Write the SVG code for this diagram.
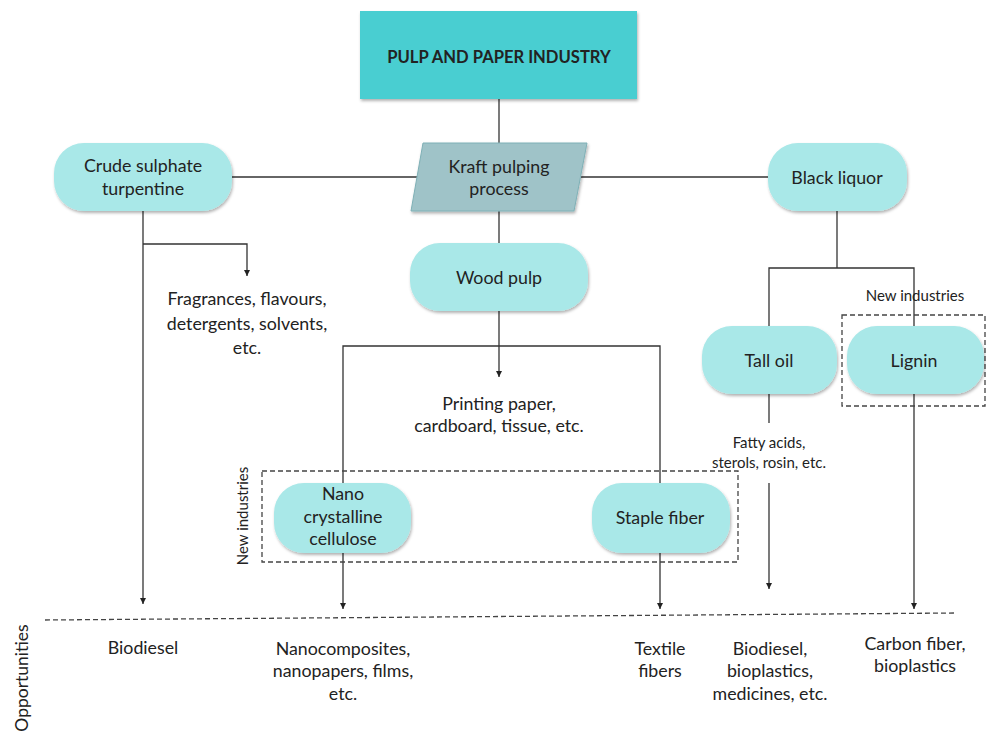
<svg xmlns="http://www.w3.org/2000/svg" width="986" height="740" viewBox="0 0 986 740">
<style>
text{font-family:Lato,"Open Sans","Liberation Sans",sans-serif;fill:#222;text-anchor:middle}
.n{font-size:17.8px}
.s{font-size:15px}
.pill{fill:#A9E8E8;filter:url(#sh)}
.c{stroke:#333;stroke-width:1.3;fill:none}
.d{stroke:#444;stroke-width:1.3;fill:none;stroke-dasharray:5 3}
</style>
<defs>
<filter id="sh" x="-10%" y="-10%" width="120%" height="130%">
<feDropShadow dx="1" dy="2" stdDeviation="1.5" flood-color="#000" flood-opacity="0.3"/>
</filter>
<marker id="ar" markerWidth="8" markerHeight="8" refX="6" refY="3" orient="auto" markerUnits="userSpaceOnUse">
<path d="M0,0 L6,3 L0,6 z" fill="#222"/>
</marker>
</defs>
<g id="connectors">
<path class="c" d="M499,99 V143"/>
<path class="c" d="M232,177 H418"/>
<path class="c" d="M581,177 H768"/>
<path class="c" d="M499,211 V243"/>
<path class="c" d="M499,311 V377" marker-end="url(#ar)"/>
<path class="c" d="M343,483 V346 H660 V483"/>
<path class="c" d="M143,211 V604" marker-end="url(#ar)"/>
<path class="c" d="M143,244 H247 V276" marker-end="url(#ar)"/>
<path class="c" d="M837,211 V268"/>
<path class="c" d="M769,327 V268 H914 V327"/>
<path class="c" d="M769,394 V423"/>
<path class="c" d="M769,483 V589" marker-end="url(#ar)"/>
<path class="c" d="M914,394 V609" marker-end="url(#ar)"/>
<path class="c" d="M343,553 V609" marker-end="url(#ar)"/>
<path class="c" d="M660,553 V609" marker-end="url(#ar)"/>
</g>
<g id="groups">
<rect class="d" x="262" y="471" width="476" height="91"/>
<rect class="d" x="842" y="315" width="143" height="91"/>
<path class="d" d="M45,620 L957,613"/>
<text class="s" transform="translate(248,516) rotate(-90)">New industries</text>
<text class="s" x="915" y="301">New industries</text>
<text class="n" style="font-size:17.5px" transform="translate(28,678) rotate(-90)">Opportunities</text>
</g>
<g id="n-top">
<rect x="360" y="11" width="277" height="88" fill="#48CED1" filter="url(#sh)"/>
<text x="499" y="63" style="font-size:16.6px;font-weight:bold">PULP AND PAPER INDUSTRY</text>
</g>
<g id="n-kraft">
<polygon points="423,143 587,143 574,211 411,211" fill="#9FC3C8" stroke="#7FB0B6" stroke-width="1" filter="url(#sh)"/>
<text class="n" x="499" y="173">Kraft pulping</text>
<text class="n" x="499" y="195">process</text>
</g>
<g id="n-crude">
<rect class="pill" x="54" y="143" width="178" height="68" rx="30"/>
<text class="n" x="143" y="172">Crude sulphate</text>
<text class="n" x="143" y="195">turpentine</text>
</g>
<g id="n-black">
<rect class="pill" x="768" y="143" width="139" height="68" rx="30"/>
<text class="n" x="837" y="184">Black liquor</text>
</g>
<g id="n-wood">
<rect class="pill" x="410" y="243" width="178" height="68" rx="30"/>
<text class="n" x="499" y="284">Wood pulp</text>
</g>
<g id="t-frag">
<text class="n" x="247" y="305">Fragrances, flavours,</text>
<text class="n" x="247" y="330">detergents, solvents,</text>
<text class="n" x="247" y="354">etc.</text>
</g>
<g id="t-print">
<text class="n" x="499" y="410">Printing paper,</text>
<text class="n" x="499" y="432">cardboard, tissue, etc.</text>
</g>
<g id="n-tall">
<rect class="pill" x="702" y="326" width="135" height="68" rx="30"/>
<text class="n" x="769" y="367">Tall oil</text>
</g>
<g id="n-lignin">
<rect class="pill" x="847" y="326" width="137" height="68" rx="30"/>
<text class="n" x="914" y="367">Lignin</text>
</g>
<g id="t-fatty">
<text class="s" x="769" y="448">Fatty acids,</text>
<text class="s" x="769" y="468">sterols, rosin, etc.</text>
</g>
<g id="n-nano">
<rect class="pill" x="274" y="483" width="137" height="70" rx="30"/>
<text class="n" x="343" y="500">Nano</text>
<text class="n" x="343" y="523">crystalline</text>
<text class="n" x="343" y="545">cellulose</text>
</g>
<g id="n-staple">
<rect class="pill" x="592" y="483" width="138" height="70" rx="30"/>
<text class="n" x="660" y="524">Staple fiber</text>
</g>
<g id="t-opps">
<text class="n" x="143" y="654">Biodiesel</text>
<text class="n" x="343" y="655">Nanocomposites,</text>
<text class="n" x="343" y="677">nanopapers, films,</text>
<text class="n" x="343" y="700">etc.</text>
<text class="n" x="660" y="655">Textile</text>
<text class="n" x="660" y="677">fibers</text>
<text class="n" x="770" y="655">Biodiesel,</text>
<text class="n" x="770" y="677">bioplastics,</text>
<text class="n" x="770" y="700">medicines, etc.</text>
<text class="n" x="915" y="650">Carbon fiber,</text>
<text class="n" x="915" y="672">bioplastics</text>
</g>
</svg>
